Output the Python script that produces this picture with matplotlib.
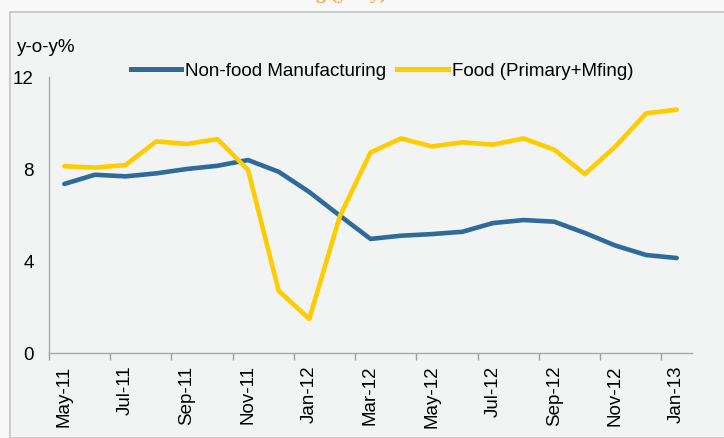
import matplotlib.pyplot as plt
from matplotlib.lines import Line2D
from matplotlib.patches import Rectangle

plt.rcParams['font.family'] = ['Liberation Sans', 'DejaVu Sans']

# Data
months = ['May-11', 'Jun-11', 'Jul-11', 'Aug-11', 'Sep-11', 'Oct-11', 'Nov-11',
          'Dec-11', 'Jan-12', 'Feb-12', 'Mar-12', 'Apr-12', 'May-12', 'Jun-12',
          'Jul-12', 'Aug-12', 'Sep-12', 'Oct-12', 'Nov-12', 'Dec-12', 'Jan-13']
non_food = [7.35, 7.75, 7.68, 7.81, 8.0, 8.14, 8.39, 7.88, 7.0, 5.97, 4.96,
            5.1, 5.17, 5.27, 5.65, 5.78, 5.71, 5.22, 4.67, 4.26, 4.13]
food = [8.12, 8.06, 8.17, 9.2, 9.09, 9.3, 7.96, 2.71, 1.48, 5.95, 8.72,
        9.33, 8.98, 9.16, 9.06, 9.33, 8.84, 7.78, 8.98, 10.42, 10.58]
yticks = [0, 4, 8, 12]

blue = '#2E6B9B'
yellow = '#FFCC00'
bg = '#F2F4F3'
fs = 13.5

fig = plt.figure(figsize=(7.24, 4.38), dpi=100)
fig.patch.set_facecolor('#F8F8F8')

# grey panel behind the chart
panel = Rectangle((10 / 724, 0), 1, 1 - 12 / 438, transform=fig.transFigure,
                  facecolor=bg, edgecolor='#C4C4C4', linewidth=1.2, zorder=-10)
fig.patches.append(panel)

# cut-off title at the top (only descenders show)
fig.text(386 / 724, 1 + 1 / 438, 'Growth in Manufacturing (y-o-y)',
         color='#F7A040', fontsize=14, fontweight='bold', family='Liberation Serif',
         ha='right', va='baseline')

ax = fig.add_axes([49 / 724, 1 - 353 / 438, (692 - 49) / 724, (353 - 77) / 438])
ax.set_zorder(1)
ax.set_facecolor(bg)

x = range(len(months))
ax.plot(x, non_food, color=blue, linewidth=3.3, solid_capstyle='round', solid_joinstyle='round')
ax.plot(x, food, color=yellow, linewidth=3.3, solid_capstyle='round', solid_joinstyle='round')

ax.set_xlim(-0.5, len(months) - 0.5)
ax.set_ylim(0, 12)
ax.set_yticks(yticks)
ax.set_yticklabels([str(v) for v in yticks], fontsize=fs)
ax.tick_params(axis='y', length=0, pad=11)

# labels on every other month, tick marks on category boundaries
ax.set_xticks(list(x)[::2])
ax.set_xticklabels(months[::2], rotation=90, fontsize=fs)
ax.tick_params(axis='x', length=0, pad=9)
ax.set_xticks([i - 0.5 for i in range(0, len(months), 2)], minor=True)
ax.tick_params(axis='x', which='minor', length=5, color='#A0A0A0', width=1)

for s in ['top', 'right']:
    ax.spines[s].set_visible(False)
for s in ['left', 'bottom']:
    ax.spines[s].set_color('#A8A8A8')
    ax.spines[s].set_linewidth(1)

fig.text(17 / 724, 1 - 48 / 438, 'y-o-y%', fontsize=fs, va='center', ha='left')

handles = [Line2D([], [], color=blue, linewidth=3.6),
           Line2D([], [], color=yellow, linewidth=3.6)]
leg = ax.legend(handles, ['Non-food Manufacturing', 'Food (Primary+Mfing)'],
                loc='center', bbox_to_anchor=(382 / 724, 1 - 71 / 438),
                bbox_transform=fig.transFigure, ncol=2, frameon=False,
                fontsize=fs, handlelength=2.7, handletextpad=0.2, columnspacing=0.6,
                borderpad=0, borderaxespad=0)

fig.savefig('out.png', dpi=100, facecolor=fig.get_facecolor())
